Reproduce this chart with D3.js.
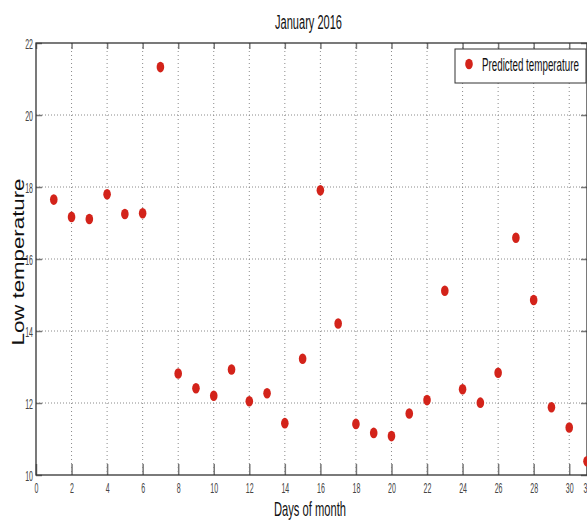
<!DOCTYPE html>
<html>
<head>
<meta charset="utf-8">
<script src="https://cdn.jsdelivr.net/npm/d3@7"></script>
<style>
  html, body { margin: 0; padding: 0; background: #fff; overflow: hidden; }
  svg { display: block; }
  text { font-family: "Liberation Sans", Arial, sans-serif; }
</style>
</head>
<body>
<svg id="chart" width="587" height="520"></svg>
<script>
// Day of month and predicted low temperature
const days = [1, 2, 3, 4, 5, 6, 7, 8, 9, 10, 11, 12, 13, 14, 15, 16,
              17, 18, 19, 20, 21, 22, 23, 24, 25, 26, 27, 28, 29, 30, 31];
const lowTemps = [17.65, 17.17, 17.11, 17.80, 17.25, 17.27, 21.33, 12.82, 12.41, 12.20, 12.93,
                  12.05, 12.27, 11.44, 13.23, 17.91, 14.21, 11.42, 11.17, 11.08, 11.71, 12.08,
                  15.12, 12.38, 12.01, 12.84, 16.59, 14.86, 11.88, 11.32, 10.38];
const xTicks = [0, 2, 4, 6, 8, 10, 12, 14, 16, 18, 20, 22, 24, 26, 28, 30, 31];
const yTicks = [10, 12, 14, 16, 18, 20, 22];
const seriesName = "Predicted temperature";
const titleText = "January 2016";
const xLabel = "Days of month";
const yLabel = "Low temperature";

const svg = d3.select("#chart");
const m = { left: 36, top: 43, right: 0, bottom: 45 };
const W = 587, H = 520;
const x = d3.scaleLinear().domain([0, 31]).range([m.left, W - m.right]);
const y = d3.scaleLinear().domain([10, 22]).range([H - m.bottom, m.top]);
const x0 = x.range()[0], x1 = x.range()[1], y0 = y.range()[0], y1 = y.range()[1];

const red = "#d3231a";
const gridCol = "#8a8a8a";
const tickSx = 0.47;   // horizontal squeeze of the narrow tick font

// narrow text: drawn at (cx, cy) and squeezed to a given width
function narrowText(str, cx, cy, fs, width, anchor) {
  const t = svg.append("text").attr("x", 0).attr("y", 0)
    .attr("font-size", fs).attr("fill", "#111").attr("text-anchor", anchor || "middle").text(str);
  const w = t.node().getComputedTextLength();
  t.attr("transform", `translate(${cx},${cy}) scale(${width / w},1)`);
  return t;
}

// dotted grid
const grid = svg.append("g");
grid.selectAll("line.v").data(xTicks.filter(d => d > 0 && d < 31)).join("line")
  .attr("x1", d => x(d)).attr("x2", d => x(d)).attr("y1", y1).attr("y2", y0)
  .attr("stroke", gridCol).attr("stroke-width", 1).attr("stroke-dasharray", "1,3");
grid.selectAll("line.h").data(yTicks.filter(d => d > 10 && d < 22)).join("line")
  .attr("x1", x0).attr("x2", x1).attr("y1", d => y(d)).attr("y2", d => y(d))
  .attr("stroke", gridCol).attr("stroke-width", 1).attr("stroke-dasharray", "1,2");

// axes with inward ticks
const xAxis = svg.append("g").attr("transform", `translate(0,${y0})`)
  .call(d3.axisBottom(x).tickValues(xTicks).tickFormat(d3.format("d")).tickSizeInner(-11).tickSizeOuter(0));
const xTop = svg.append("g").attr("transform", `translate(0,${y1})`)
  .call(d3.axisTop(x).tickValues(xTicks).tickFormat("").tickSizeInner(-6).tickSizeOuter(0));
const yAxis = svg.append("g").attr("transform", `translate(${x0},0)`)
  .call(d3.axisLeft(y).tickValues(yTicks).tickFormat(d3.format("d")).tickSizeInner(-6).tickSizeOuter(0));
const yRight = svg.append("g").attr("transform", `translate(${x1},0)`)
  .call(d3.axisRight(y).tickValues(yTicks).tickFormat("").tickSizeInner(-6).tickSizeOuter(0));

[xAxis, xTop, yAxis, yRight].forEach(g => {
  g.select(".domain").remove();
  g.selectAll(".tick line").attr("stroke", "#777").attr("stroke-width", 1.5);
  g.selectAll("text").attr("font-family", "'Liberation Sans', Arial, sans-serif")
    .attr("font-size", 15).attr("fill", "#444");
});
xAxis.selectAll(".tick text").attr("y", 13).attr("dy", "0.35em")
  .attr("transform", `scale(${tickSx},1)`);
yAxis.selectAll(".tick text").attr("x", -3 / tickSx).attr("dy", "0.35em")
  .attr("transform", `scale(${tickSx},1)`);

// frame
svg.append("rect").attr("x", x0).attr("y", y1).attr("width", x1 - x0).attr("height", y0 - y1)
  .attr("fill", "none").attr("stroke", "#333").attr("stroke-width", 1.3);

// points
svg.append("g").selectAll("ellipse").data(days).join("ellipse")
  .attr("cx", d => x(d)).attr("cy", (d, i) => y(lowTemps[i]))
  .attr("rx", 3.8).attr("ry", 5.3).attr("fill", red);

// legend
svg.append("rect").attr("x", 455).attr("y", 49).attr("width", 131).attr("height", 34)
  .attr("fill", "#fff").attr("stroke", "#333").attr("stroke-width", 1);
svg.append("ellipse").attr("cx", 469).attr("cy", 64).attr("rx", 3.8).attr("ry", 5.3).attr("fill", red);
narrowText(seriesName, 482, 71, 18, 97, "start");

// title and axis labels
narrowText(titleText, 308.5, 29, 20, 67);
narrowText(xLabel, 310, 516, 20, 72);
svg.append("text").attr("transform", `translate(24,262) rotate(-90)`).attr("text-anchor", "middle")
  .attr("font-family", "'DejaVu Sans', sans-serif").attr("font-size", 16).attr("fill", "#111")
  .attr("textLength", 167).attr("lengthAdjust", "spacingAndGlyphs")
  .text(yLabel);
</script>
</body>
</html>
